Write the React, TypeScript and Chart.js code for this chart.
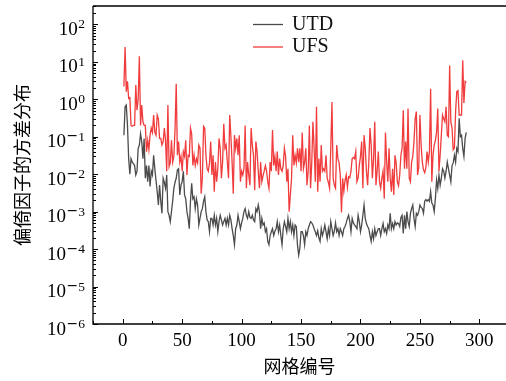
import React, { useEffect, useRef } from "react";
import { Chart, registerables } from "chart.js";

Chart.register(...registerables);

// Variance of the bias factor per grid cell
const utdValues = [
  0.11, 0.63, 0.7, 0.2, 0.026, 0.01, 0.026, 0.021, 0.019, 0.017,
  0.0095, 0.012, 0.049, 0.06, 0.12, 0.074, 0.026, 0.09, 0.0078, 0.017,
  0.0063, 0.017, 0.0047, 0.012, 0.0095, 0.032, 0.014, 0.0068, 0.0034, 0.0015,
  0.0051, 0.0019, 0.0009, 0.0078, 0.006, 0.0042, 0.0095, 0.001, 0.0008, 0.00054,
  0.001, 0.0019, 0.0042, 0.006, 0.0078, 0.013, 0.014, 0.0028, 0.0051, 0.0063,
  0.012, 0.0028, 0.0022, 0.001, 0.00066, 0.00035, 0.0019, 0.0057, 0.0022, 0.0025,
  0.0012, 0.0022, 0.0015, 0.00044, 0.00066, 0.001, 0.0012, 0.0019, 0.0025, 0.001,
  0.0006, 0.00054, 0.00029, 0.00066, 0.00066, 0.00044, 0.0008, 0.00044, 0.00066, 0.00029,
  0.00054, 0.0008, 0.0006, 0.00044, 0.00054, 0.00066, 0.00044, 0.00066, 0.00044, 0.0008,
  0.0006, 0.00035, 0.00023, 0.00013, 0.00035, 0.00044, 0.0008, 0.00054, 0.00035, 0.0005,
  0.00066, 0.001, 0.0012, 0.0008, 0.00066, 0.001, 0.0007, 0.00066, 0.0008, 0.0006,
  0.00054, 0.0012, 0.001, 0.0015, 0.001, 0.00035, 0.00066, 0.00044, 0.0005, 0.00029,
  0.00035, 0.00016, 0.00013, 0.00023, 0.00029, 0.00035, 0.00023, 0.0003, 0.00035, 0.00054,
  0.00029, 0.00044, 0.00023, 0.00013, 0.00035, 0.00054, 0.0004, 0.00029, 0.00066, 0.00035,
  0.00054, 0.00029, 0.00044, 0.00023, 0.00044, 0.0004, 0.00013, 0.000069, 0.000105, 0.00029,
  0.00029, 0.00023, 0.00013, 0.00029, 0.00023, 0.00035, 0.00044, 0.00054, 0.0005, 0.00044,
  0.00035, 0.00029, 0.00023, 0.00031, 0.0002, 0.00016, 0.00035, 0.00023, 0.0003, 0.00044,
  0.00029, 0.00019, 0.00035, 0.00023, 0.00054, 0.00035, 0.00023, 0.0003, 0.0005, 0.00029,
  0.00035, 0.00023, 0.00035, 0.00029, 0.00023, 0.00035, 0.0004, 0.0005, 0.00066, 0.0008,
  0.00054, 0.00029, 0.00066, 0.0005, 0.00044, 0.0004, 0.00035, 0.0008, 0.00054, 0.00029,
  0.00044, 0.0008, 0.0015, 0.00066, 0.00048, 0.0004, 0.00035, 0.00023, 0.00016, 0.00029,
  0.00019, 0.00035, 0.00023, 0.00029, 0.00035, 0.00035, 0.00023, 0.00035, 0.00048, 0.00029,
  0.00035, 0.00026, 0.00044, 0.00035, 0.0009, 0.00035, 0.00048, 0.00035, 0.00054, 0.00044,
  0.0005, 0.00048, 0.0004, 0.0007, 0.0008, 0.00026, 0.0008, 0.00035, 0.001, 0.00054,
  0.0004, 0.0009, 0.0012, 0.0015, 0.00066, 0.0004, 0.0009, 0.0008, 0.001, 0.0015,
  0.0013, 0.0012, 0.0009, 0.0019, 0.0021, 0.0019, 0.0021, 0.0019, 0.0034, 0.0017,
  0.0015, 0.001, 0.0022, 0.007, 0.0042, 0.0095, 0.0051, 0.0078, 0.014, 0.012,
  0.0078, 0.012, 0.021, 0.014, 0.0095, 0.0063, 0.017, 0.02, 0.032, 0.021,
  0.049, 0.04, 0.31, 0.1, 0.11, 0.049, 0.03, 0.09, 0.13,
];

const ufsValues = [
  2.2, 25, 1.6, 3.0, 1.05, 1.1, 0.2, 0.19, 0.2, 0.2,
  2.4, 0.51, 1.0, 14, 0.2, 0.7, 0.25, 0.2, 0.2, 0.04,
  0.08, 0.045, 0.11, 0.17, 0.13, 0.38, 0.13, 0.11, 0.38, 0.3,
  0.09, 0.09, 0.06, 0.074, 0.17, 0.08, 0.012, 0.7, 0.016, 0.02,
  0.08, 0.021, 0.03, 0.15, 2.6, 0.032, 0.074, 0.021, 0.03, 0.012,
  0.04, 0.03, 0.08, 0.0095, 0.032, 0.03, 0.17, 0.12, 0.017, 0.032,
  0.017, 0.026, 0.02, 0.06, 0.05, 0.003, 0.008, 0.19, 0.17, 0.032,
  0.014, 0.012, 0.02, 0.074, 0.0095, 0.032, 0.0034, 0.021, 0.0063, 0.014,
  0.09, 0.05, 0.0078, 0.021, 0.22, 0.049, 0.06, 0.021, 0.0078, 0.38,
  0.1, 0.021, 0.003, 0.11, 0.049, 0.09, 0.032, 0.11, 0.0063, 0.012,
  0.0095, 0.014, 0.2, 0.0042, 0.021, 0.0095, 0.0051, 0.17, 0.06, 0.032,
  0.0037, 0.074, 0.04, 0.012, 0.0042, 0.021, 0.0063, 0.009, 0.012, 0.017,
  0.012, 0.0063, 0.0042, 0.021, 0.012, 0.15, 0.017, 0.03, 0.012, 0.04,
  0.0095, 0.026, 0.014, 0.012, 0.017, 0.049, 0.03, 0.0063, 0.014, 0.001,
  0.0028, 0.0078, 0.11, 0.017, 0.032, 0.02, 0.049, 0.021, 0.049, 0.012,
  0.13, 0.014, 0.021, 0.049, 0.0051, 0.012, 0.2, 0.0042, 0.02, 0.25,
  0.049, 0.0063, 0.63, 0.0034, 0.026, 0.0063, 0.06, 0.012, 0.014, 0.012,
  0.032, 0.0078, 0.006, 0.0042, 0.049, 0.85, 0.0078, 0.0051, 0.0042, 0.06,
  0.026, 0.02, 0.0095, 0.00095, 0.0078, 0.0035, 0.0068, 0.0095, 0.0045, 0.0085,
  0.008, 0.012, 0.026, 0.028, 0.026, 0.04, 0.0063, 0.0078, 0.017, 0.03,
  0.074, 0.0042, 0.11, 0.049, 0.012, 0.0051, 0.021, 0.17, 0.06, 0.0078,
  0.026, 0.25, 0.0051, 0.012, 0.04, 0.0063, 0.0042, 0.008, 0.012, 0.0022,
  0.13, 0.021, 0.0063, 0.049, 0.0078, 0.0034, 0.014, 0.0028, 0.032, 0.02,
  0.0063, 0.0049, 0.0095, 0.032, 0.05, 0.51, 0.014, 0.074, 0.014, 0.57,
  0.0078, 0.0063, 0.021, 0.03, 0.074, 0.3, 0.47, 0.0095, 0.015, 0.38,
  0.06, 0.021, 0.013, 0.011, 0.015, 0.04, 0.021, 0.04, 1.9, 0.0063,
  0.032, 0.06, 0.08, 0.13, 0.57, 0.012, 0.032, 0.11, 0.38, 0.3,
  0.25, 0.63, 0.11, 0.1, 8, 0.25, 0.17, 0.045, 0.05, 0.47,
  1.6, 1.7, 0.38, 0.38, 0.38, 11, 0.8, 3.0, 2.8,
];

const seriesLabels = ["UTD", "UFS"];
const seriesColors = ["#4b4b4b", "#f03c3c"];
const xTickValues = [0, 50, 100, 150, 200, 250, 300];
const xMinorTickValues = [-25, 25, 75, 125, 175, 225, 275, 325];
const yDecadeExponents = [-6, -5, -4, -3, -2, -1, 0, 1, 2];
const xAxisTitle = "网格编号";
const yAxisTitle = "偏倚因子的方差分布";

const SERIF = '"Liberation Serif", "DejaVu Serif", serif';
const CJK = '"Noto Sans CJK SC", "Noto Sans CJK JP", sans-serif';

const decorPlugin = {
  id: "decor",
  afterDraw(chart: any) {
    const { ctx, chartArea: a, scales } = chart;
    const xs = scales.x;
    const ys = scales.y;
    ctx.save();
    ctx.strokeStyle = "#000";
    ctx.fillStyle = "#000";

    // spines
    ctx.lineWidth = 1.3;
    ctx.beginPath();
    ctx.moveTo(a.left, a.top);
    ctx.lineTo(a.right + 2, a.top);
    ctx.moveTo(a.left, a.top);
    ctx.lineTo(a.left, a.bottom);
    ctx.lineTo(a.right + 2, a.bottom);
    ctx.stroke();

    // x ticks (inward)
    ctx.lineWidth = 1;
    ctx.beginPath();
    for (const v of xTickValues) {
      const px = Math.round(xs.getPixelForValue(v)) + 0.5;
      ctx.moveTo(px, a.bottom);
      ctx.lineTo(px, a.bottom - 5);
    }
    for (const v of xMinorTickValues) {
      const px = Math.round(xs.getPixelForValue(v)) + 0.5;
      if (px < a.left || px > a.right) continue;
      ctx.moveTo(px, a.bottom);
      ctx.lineTo(px, a.bottom - 3);
    }
    // y ticks (inward)
    for (const e of yDecadeExponents) {
      const py = Math.round(ys.getPixelForValue(Math.pow(10, e))) + 0.5;
      ctx.moveTo(a.left, py);
      ctx.lineTo(a.left + 5, py);
      for (let m = 2; m <= 9; m++) {
        const v = m * Math.pow(10, e);
        if (v > ys.max) break;
        const pm = Math.round(ys.getPixelForValue(v)) + 0.5;
        ctx.moveTo(a.left, pm);
        ctx.lineTo(a.left + 3, pm);
      }
    }
    ctx.stroke();

    // y tick labels 10^n
    ctx.textBaseline = "alphabetic";
    for (const e of yDecadeExponents) {
      const py = ys.getPixelForValue(Math.pow(10, e));
      const right = a.left - 8;
      const digits = String(Math.abs(e));
      ctx.font = `13.5px ${SERIF}`;
      const dW = ctx.measureText(digits).width;
      let minusW = 0;
      if (e < 0) {
        ctx.font = '14px "DejaVu Sans", sans-serif';
        minusW = ctx.measureText("\u2212").width;
      }
      const expLeft = right - dW - minusW;
      ctx.font = `19px ${SERIF}`;
      ctx.textAlign = "right";
      ctx.fillText("10", expLeft - 0.5, py + 10.5);
      ctx.textAlign = "left";
      if (e < 0) {
        ctx.font = '14px "DejaVu Sans", sans-serif';
        ctx.fillText("\u2212", expLeft, py + 3.5);
      }
      ctx.font = `13.5px ${SERIF}`;
      ctx.fillText(digits, expLeft + minusW, py + 4);
    }

    // legend
    const lx0 = a.left + 160;
    const lx1 = lx0 + 30;
    const rows = [a.top + 18.5, a.top + 41];
    ctx.font = `20px ${SERIF}`;
    ctx.textBaseline = "middle";
    ctx.textAlign = "left";
    seriesLabels.forEach((label, i) => {
      ctx.strokeStyle = seriesColors[i];
      ctx.lineWidth = 1.3;
      ctx.beginPath();
      ctx.moveTo(lx0, rows[i]);
      ctx.lineTo(lx1, rows[i]);
      ctx.stroke();
      ctx.fillStyle = "#111";
      ctx.fillText(label, lx1 + 9, rows[i]);
    });
    ctx.restore();
  },
};

export default function App() {
  const canvasRef = useRef<HTMLCanvasElement | null>(null);

  useEffect(() => {
    const canvas = canvasRef.current;
    if (!canvas) return;
    const toPoints = (arr: number[]) => arr.map((v, i) => ({ x: i + 1, y: v }));
    const chart = new Chart(canvas, {
      type: "line",
      data: {
        datasets: [
          {
            label: seriesLabels[0],
            data: toPoints(utdValues),
            borderColor: seriesColors[0],
            backgroundColor: seriesColors[0],
            borderWidth: 1.3,
            pointRadius: 0,
            tension: 0,
            order: 1,
          },
          {
            label: seriesLabels[1],
            data: toPoints(ufsValues),
            borderColor: seriesColors[1],
            backgroundColor: seriesColors[1],
            borderWidth: 1.3,
            pointRadius: 0,
            tension: 0,
            order: 0,
          },
        ],
      },
      options: {
        responsive: false,
        animation: false,
        events: [],
        layout: { padding: { top: 6, right: 0, bottom: 0, left: 0 } },
        plugins: {
          legend: { display: false },
          tooltip: { enabled: false },
        },
        scales: {
          x: {
            type: "linear",
            min: -25,
            max: 322.4,
            afterBuildTicks: (s: any) => {
              s.ticks = xTickValues.map((v) => ({ value: v }));
            },
            afterFit: (s: any) => {
              s.height = 57;
            },
            grid: { display: false, drawTicks: false },
            border: { display: false },
            ticks: {
              autoSkip: false,
              maxRotation: 0,
              padding: 6,
              color: "#000",
              font: { family: SERIF, size: 19 },
              callback: (v: any) => String(v),
            },
            title: {
              display: true,
              text: xAxisTitle,
              color: "#000",
              font: { family: CJK, size: 18 },
              padding: { top: 0, bottom: 4 },
            },
          },
          y: {
            type: "logarithmic",
            min: 1e-6,
            max: Math.pow(10, 2.49),
            afterFit: (s: any) => {
              s.width = 93;
            },
            grid: { display: false, drawTicks: false },
            border: { display: false },
            ticks: { display: false },
            title: {
              display: true,
              text: yAxisTitle,
              color: "#000",
              font: { family: CJK, size: 18 },
              padding: { top: 11, bottom: 0 },
            },
          },
        },
      },
      plugins: [decorPlugin],
    } as any);
    return () => chart.destroy();
  }, []);

  return (
    <div
      style={{
        position: "fixed",
        left: 0,
        top: 0,
        width: 506,
        height: 381,
        background: "#fff",
      }}
    >
      <canvas ref={canvasRef} width={506} height={381} style={{ display: "block" }} />
    </div>
  );
}
